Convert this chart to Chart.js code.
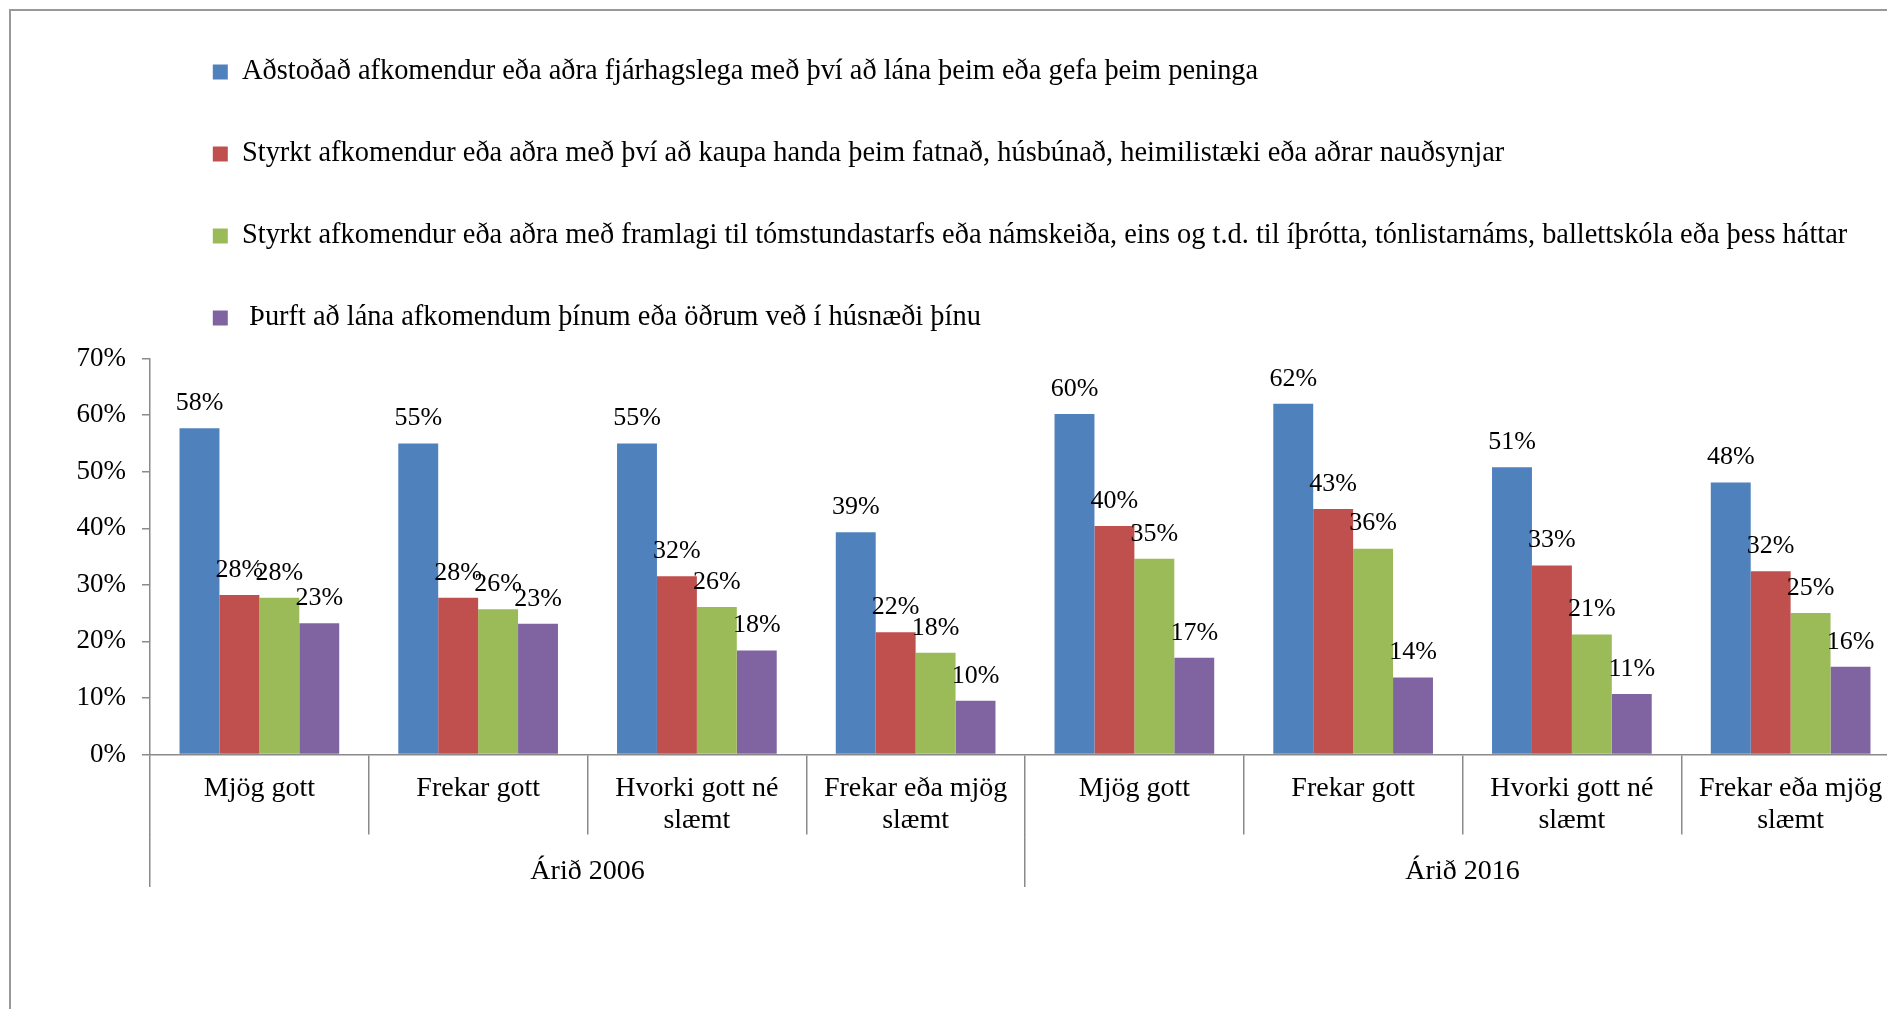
<!DOCTYPE html>
<html>
<head>
<meta charset="utf-8">
<script src="https://cdn.jsdelivr.net/npm/chart.js@4.4.0/dist/chart.umd.min.js"></script>
<style>
    html, body { margin: 0; padding: 0; background: #fff; overflow: hidden; }
    #frame {
        position: absolute; left: 9px; top: 9px; width: 1890px; height: 1010px;
        border-left: 2px solid #999; border-top: 2px solid #999;
    }
    #chart { position: absolute; left: 0; top: 0; }
</style>
</head>
<body>
<div id="frame"></div>
<canvas id="chart" width="1900" height="1009"></canvas>
<script>
// Categories (two groups of four answers)
const categories = [
    'Mjög gott', 'Frekar gott', ['Hvorki gott né', 'slæmt'], ['Frekar eða mjög', 'slæmt'],
    'Mjög gott', 'Frekar gott', ['Hvorki gott né', 'slæmt'], ['Frekar eða mjög', 'slæmt']
];
const years = ['Árið 2006', 'Árið 2016'];

// Series names
const seriesNames = [
    'Aðstoðað afkomendur eða aðra fjárhagslega með því að lána þeim eða gefa þeim peninga',
    'Styrkt afkomendur eða aðra með því að kaupa handa þeim fatnað, húsbúnað, heimilistæki eða aðrar nauðsynjar',
    'Styrkt afkomendur eða aðra með framlagi til tómstundastarfs eða námskeiða, eins og t.d. til íþrótta, tónlistarnáms, ballettskóla eða þess háttar',
    ' Þurft að lána afkomendum þínum eða öðrum veð í húsnæði þínu'
];

// Values in percent
const moneyHelp   = [57.7, 55.0, 55.0, 39.3, 60.2, 62.0, 50.8, 48.1];
const goodsHelp   = [28.2, 27.7, 31.5, 21.6, 40.4, 43.4, 33.4, 32.4];
const leisureHelp = [27.7, 25.7, 26.1, 18.0, 34.6, 36.4, 21.2, 25.0];
const mortgage    = [23.2, 23.1, 18.4, 9.5, 17.1, 13.6, 10.7, 15.5];

const colors = ['#4F81BD', '#C0504D', '#9BBB59', '#8064A2'];
const axisColor = '#8a8a8a';
const fontFamily = "'Liberation Serif', serif";

// Percent labels above each bar
const valueLabels = {
    id: 'valueLabels',
    afterDatasetsDraw(chart) {
        const ctx = chart.ctx;
        ctx.save();
        ctx.font = '26px ' + fontFamily;
        ctx.fillStyle = '#000';
        ctx.textAlign = 'center';
        ctx.textBaseline = 'middle';
        chart.data.datasets.forEach((ds, i) => {
            chart.getDatasetMeta(i).data.forEach((bar, j) => {
                ctx.fillText(Math.round(ds.data[j]) + '%', bar.x, bar.y - 25);
            });
        });
        ctx.restore();
    }
};

// Nudge the legend a little to the right
const legendOffset = {
    id: 'legendOffset',
    afterLayout(chart) {
        chart.legend.left += 9.2;
        chart.legend.right += 9.2;
    }
};

const seriesValues = [moneyHelp, goodsHelp, leisureHelp, mortgage];

new Chart(document.getElementById('chart'), {
    type: 'bar',
    data: {
        labels: categories,
        datasets: seriesValues.map((vals, i) => ({
            label: seriesNames[i],
            data: vals,
            backgroundColor: colors[i],
            borderWidth: 0,
            categoryPercentage: 0.73,
            barPercentage: 1
        }))
    },
    options: {
        responsive: false,
        animation: false,
        layout: { padding: { top: 4.2, bottom: 111, left: 0, right: 0 } },
        plugins: {
            legend: {
                display: true,
                position: 'top',
                align: 'start',
                fullSize: false,
                labels: {
                    boxWidth: 15,
                    boxHeight: 15,
                    padding: 53.6,
                    color: '#000',
                    font: { family: fontFamily, size: 28.4 }
                }
            },
            // empty spacer between legend and plot
            title: {
                display: true,
                text: '',
                weight: 500,
                font: { size: 1, lineHeight: 1 },
                padding: { top: 0, bottom: 15.4 }
            },
            tooltip: { enabled: false }
        },
        scales: {
            x: {
                offset: true,
                grid: {
                    offset: true,
                    drawOnChartArea: false,
                    drawTicks: true,
                    tickLength: 80,
                    color: axisColor,
                    lineWidth: 1.5
                },
                border: { display: true, color: axisColor, width: 1.5 },
                ticks: {
                    color: '#000',
                    font: { family: fontFamily, size: 28, lineHeight: 1.125 },
                    padding: -61.25,
                    autoSkip: false,
                    maxRotation: 0
                },
                title: {
                    display: true,
                    text: '',
                    font: { size: 1, lineHeight: 1 },
                    padding: { top: 0, bottom: 58 }
                }
            },
            x2: {
                type: 'category',
                labels: years,
                position: 'bottom',
                offset: true,
                grid: {
                    offset: true,
                    drawOnChartArea: false,
                    drawTicks: true,
                    tickLength: 53,
                    color: axisColor,
                    lineWidth: 1.5
                },
                border: { display: false },
                ticks: {
                    color: '#000',
                    font: { family: fontFamily, size: 28, lineHeight: 1.125 },
                    padding: -30.75,
                    autoSkip: false,
                    maxRotation: 0
                },
                title: {
                    display: true,
                    text: '',
                    font: { size: 1, lineHeight: 1 },
                    padding: { top: 0, bottom: 40 }
                }
            },
            y: {
                min: 0,
                max: 70,
                afterFit(scale) { scale.width = 150; },
                grid: {
                    drawOnChartArea: false,
                    drawTicks: true,
                    tickLength: 8,
                    color: axisColor,
                    lineWidth: 1.5
                },
                border: { display: true, color: axisColor, width: 1.5 },
                ticks: {
                    stepSize: 10,
                    padding: 16,
                    color: '#000',
                    font: { family: fontFamily, size: 27 },
                    callback: v => v + '%'
                }
            }
        }
    },
    plugins: [valueLabels, legendOffset]
});
</script>
</body>
</html>
